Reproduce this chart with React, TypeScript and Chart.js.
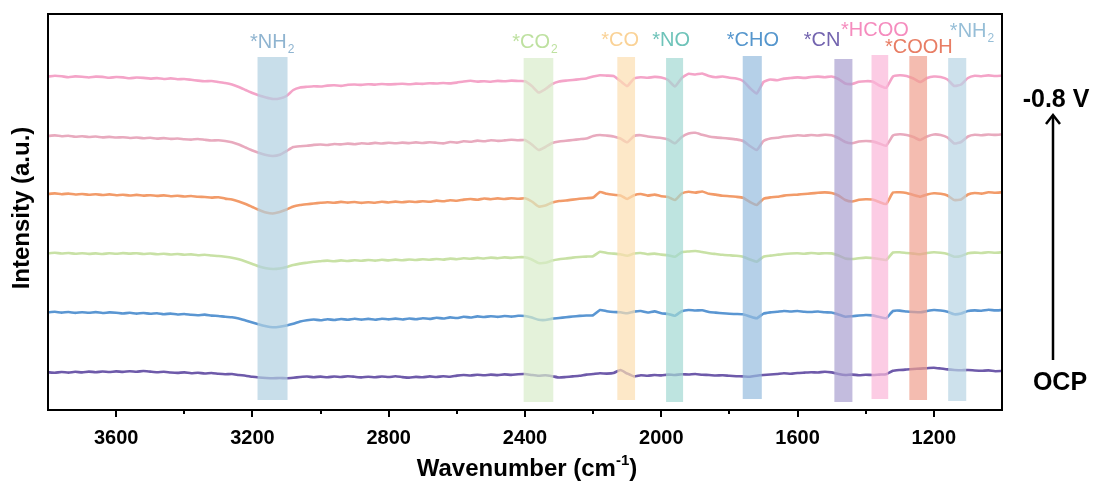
import React, { useEffect, useRef } from "react";
import { Chart, registerables } from "chart.js";

Chart.register(...registerables);

// ---------- DATA ----------
const wavenumbers: number[] = [
  3800, 3780, 3760, 3740, 3720, 3700, 3680, 3660, 3640, 3620, 3600,
  3580, 3560, 3540, 3520, 3500, 3480, 3460, 3440, 3420, 3400,
  3380, 3360, 3340, 3320, 3300, 3280, 3260, 3240, 3220, 3200,
  3180, 3160, 3140, 3120, 3100, 3080, 3060, 3040, 3020, 3000,
  2980, 2960, 2940, 2920, 2900, 2880, 2860, 2840, 2820, 2800,
  2780, 2760, 2740, 2720, 2700, 2680, 2660, 2640, 2620, 2600,
  2580, 2560, 2540, 2520, 2500, 2480, 2460, 2440, 2420, 2400,
  2380, 2360, 2340, 2320, 2300, 2280, 2260, 2240, 2220, 2200,
  2180, 2160, 2140, 2120, 2100, 2080, 2060, 2040, 2020, 2000,
  1980, 1960, 1940, 1920, 1900, 1880, 1860, 1840, 1820, 1800,
  1780, 1760, 1740, 1720, 1700, 1680, 1660, 1640, 1620, 1600,
  1580, 1560, 1540, 1520, 1500, 1480, 1460, 1440, 1420, 1400,
  1380, 1360, 1340, 1320, 1300, 1280, 1260, 1240, 1220, 1200,
  1180, 1160, 1140, 1120, 1100, 1080, 1060, 1040, 1020, 1000,
];

// spectrum at -0.8 V (top, pink)
const spec6: number[] = [
  333.5, 334.2, 333.7, 332.8, 333.6, 333.2, 332.5, 333.4, 333.1, 332.2, 333.0,
  332.6, 331.7, 332.5, 332.1, 331.4, 331.9, 331.0, 331.6, 330.8, 331.0,
  330.2, 329.4, 328.8, 329.0, 328.0, 327.0, 325.5, 323.0, 320.0, 317.0,
  314.5, 312.5, 311.0, 311.5, 314.0, 320.0, 322.5, 323.2, 323.8, 323.5,
  324.4, 324.8, 324.1, 325.2, 325.5, 325.1, 325.8, 325.4, 326.0, 325.6,
  325.9, 326.3, 325.7, 326.4, 326.1, 326.8, 326.5, 327.0, 326.6, 327.4,
  328.5, 329.2, 328.4, 328.8, 328.2, 329.1, 328.7, 329.4, 329.0, 328.8,
  324.0, 317.5, 321.0, 326.0, 328.5, 329.4, 330.0, 330.8, 331.5, 333.5,
  334.8, 334.4, 334.0, 329.0, 324.0, 331.5, 332.8, 332.2, 333.1, 332.5,
  330.0, 323.5, 332.0, 336.2, 335.5, 336.5, 334.0, 332.8, 333.5, 332.2,
  331.4, 329.0, 322.0, 316.5, 328.0, 330.5, 329.8, 331.4, 332.0, 332.6,
  332.1, 333.0, 333.4, 332.8, 333.5, 331.0, 326.5, 326.0, 328.2, 328.8,
  328.5, 324.5, 322.2, 333.5, 334.8, 334.0, 331.5, 328.0, 332.0, 333.5,
  333.0, 330.5, 324.0, 325.5, 332.0, 334.2, 333.8, 334.6, 334.0, 334.3,
];

// second spectrum (dusty pink)
const spec5: number[] = [
  274.0, 274.6, 273.8, 274.2, 273.2, 273.7, 273.0, 273.5, 272.6, 273.1, 272.5,
  272.8, 272.0, 272.5, 271.8, 272.2, 271.4, 271.9, 271.1, 271.5, 270.8,
  270.4, 271.0, 270.2, 269.5, 269.8, 269.0, 267.8, 265.5, 262.5, 259.5,
  257.0, 255.0, 254.0, 255.2, 259.0, 263.0, 263.8, 264.2, 265.1, 265.5,
  265.0, 266.0, 265.6, 266.4, 265.8, 266.8, 266.2, 267.1, 266.5, 267.2,
  266.7, 267.4, 266.9, 267.6, 267.0, 267.8, 267.2, 266.6, 268.0, 267.4,
  268.8, 268.2, 269.4, 268.7, 269.8, 269.1, 269.6, 270.2, 269.7, 270.0,
  265.5, 260.0, 263.0, 267.0, 268.5, 269.2, 270.0, 270.8, 271.5, 274.0,
  275.0, 274.4, 273.6, 271.5, 267.7, 274.0, 274.8, 273.5, 272.7, 272.0,
  270.5, 266.7, 273.0, 276.5, 277.2, 275.2, 273.5, 272.6, 272.0, 271.4,
  270.6, 269.0, 264.0, 260.0, 269.0, 271.5, 272.2, 273.5, 274.0, 274.8,
  274.2, 275.0, 274.5, 275.2, 274.7, 272.0, 268.0, 266.7, 268.5, 269.0,
  268.6, 266.5, 264.3, 274.5, 275.7, 275.0, 273.0, 270.0, 273.5, 275.5,
  275.0, 272.5, 266.5, 268.0, 273.5, 275.2, 274.8, 275.5, 275.1, 275.7,
];

// third spectrum (orange)
const spec4: number[] = [
  216.0, 216.6, 215.8, 216.4, 215.5, 216.0, 215.2, 215.8, 215.0, 215.6, 214.8,
  215.3, 214.5, 215.1, 214.4, 214.8, 214.1, 214.6, 213.8, 214.2, 213.5,
  214.0, 213.2, 213.0, 212.4, 212.8, 211.4, 210.5, 208.5, 206.0, 203.0,
  200.0, 197.5, 196.5, 198.0, 200.5, 203.5, 205.0, 205.8, 206.5, 207.2,
  207.8, 207.2, 208.1, 207.4, 208.0, 207.1, 207.8, 207.3, 208.2, 207.5,
  208.4, 207.7, 208.5, 208.0, 208.8, 208.2, 209.4, 208.7, 209.8, 209.2,
  210.4, 211.0, 210.2, 211.5, 210.8, 211.6, 211.0, 211.8, 211.2, 211.7,
  208.5, 203.5, 204.5, 207.5, 209.0, 209.5, 210.4, 211.2, 211.8, 212.5,
  218.0, 216.2, 215.2, 214.5, 211.0, 214.8, 216.0, 214.4, 215.4, 213.8,
  213.0, 210.0, 216.5, 218.2, 217.4, 218.5, 216.2, 215.4, 214.2, 213.8,
  213.2, 212.2, 208.0, 205.0, 211.2, 212.6, 213.2, 214.4, 215.0, 215.4,
  216.0, 216.6, 217.2, 217.6, 217.0, 214.5, 210.0, 208.5, 210.2, 210.8,
  210.4, 208.0, 206.0, 217.4, 217.7, 217.0, 215.0, 213.3, 215.5, 216.7,
  216.2, 214.5, 210.0, 210.5, 215.5, 217.0, 216.4, 217.8, 217.2, 217.7,
];

// fourth spectrum (light green)
const spec3: number[] = [
  156.7, 157.2, 156.5, 157.0, 156.2, 156.8, 156.1, 156.6, 156.0, 156.7, 156.2,
  156.9, 156.4, 156.8, 156.0, 156.5, 155.8, 156.2, 155.5, 156.0, 155.3,
  155.6, 154.8, 155.2, 154.5, 154.0, 153.2, 152.2, 150.7, 148.5, 146.0,
  143.5, 141.8, 141.0, 141.5, 143.0, 145.0, 146.4, 147.3, 148.2, 148.8,
  149.4, 148.7, 149.6, 149.0, 149.8, 149.2, 150.0, 149.4, 150.2, 149.6,
  150.4, 149.7, 150.5, 150.0, 150.8, 150.2, 151.0, 150.4, 151.4, 150.8,
  151.7, 151.2, 152.1, 151.5, 152.4, 151.8, 152.6, 152.1, 152.8, 152.7,
  150.5, 147.0, 147.2, 149.5, 150.8, 151.5, 152.4, 153.0, 153.4, 153.8,
  158.3, 157.0, 156.4, 155.7, 154.3, 156.5, 157.0, 155.8, 156.4, 155.4,
  154.8, 153.3, 157.8, 158.5, 159.0, 158.0, 156.8, 156.0, 155.2, 154.7,
  154.2, 153.3, 150.5, 148.3, 153.3, 154.4, 155.2, 156.0, 156.5, 156.7,
  156.2, 157.0, 156.4, 156.8, 156.6, 154.5, 151.5, 151.0, 151.8, 152.4,
  152.0, 151.0, 150.0, 157.5, 157.7, 157.0, 156.4, 155.7, 157.0, 157.7,
  157.2, 156.0, 153.3, 154.0, 156.7, 157.4, 157.0, 157.8, 157.2, 157.7,
];

// fifth spectrum (blue)
const spec2: number[] = [
  97.7, 98.2, 97.4, 98.0, 97.1, 97.8, 97.2, 97.9, 97.0, 97.6, 97.3,
  96.5, 97.2, 96.4, 97.0, 96.2, 96.8, 95.8, 96.4, 95.5, 96.0,
  95.2, 94.8, 95.4, 94.4, 94.0, 93.2, 92.8, 91.5, 89.5, 87.5,
  85.5, 83.7, 82.7, 83.2, 84.5, 86.2, 88.5, 89.8, 90.5, 89.7,
  90.8, 90.0, 91.0, 90.2, 91.2, 90.4, 91.1, 90.3, 91.3, 90.6,
  91.4, 90.5, 91.5, 90.8, 91.8, 91.1, 92.2, 91.5, 92.6, 92.0,
  93.2, 92.5, 93.6, 93.0, 93.8, 93.1, 94.0, 93.4, 94.2, 94.0,
  92.4, 90.2, 90.0, 91.4, 92.0, 92.8, 93.5, 94.1, 94.5, 94.8,
  100.0, 98.8, 98.0, 97.7, 96.7, 98.4, 99.0, 97.5, 98.6, 96.8,
  96.0, 94.3, 98.8, 100.0, 99.5, 99.8, 98.0, 97.4, 96.7, 96.2,
  96.0, 95.7, 93.5, 91.7, 96.4, 97.6, 98.2, 99.0, 98.5, 99.0,
  98.2, 98.0, 98.5, 97.7, 97.5, 95.5, 93.3, 93.8, 94.5, 95.0,
  94.6, 93.0, 91.7, 99.0, 99.4, 98.5, 98.0, 97.7, 99.0, 100.0,
  99.5, 98.2, 95.7, 96.5, 99.0, 99.6, 99.2, 100.2, 99.6, 100.0,
];

// OCP spectrum (bottom, purple)
const spec1: number[] = [
  37.7, 37.2, 38.0, 37.4, 38.2, 37.6, 38.4, 37.8, 38.5, 38.0, 38.6,
  38.1, 38.8, 38.3, 39.0, 38.4, 37.8, 38.2, 37.5, 37.1, 37.6,
  36.8, 37.2, 36.5, 37.0, 36.2, 35.7, 36.0, 35.0, 34.3, 33.2,
  32.5, 32.0, 31.7, 32.0, 31.8, 32.3, 33.0, 33.5, 32.8, 33.4,
  32.7, 33.5, 33.0, 33.8, 33.2, 32.6, 33.3, 32.8, 33.5, 33.0,
  33.7, 32.9, 32.4, 33.1, 32.7, 33.6, 33.0, 33.7, 33.2, 34.4,
  35.0, 34.5, 35.2, 34.7, 35.4, 34.9, 35.6, 35.1, 35.8, 36.0,
  35.0, 34.2, 34.8, 33.8, 32.5, 33.0, 33.6, 34.2, 35.4, 36.0,
  36.7, 36.4, 37.0, 40.0, 36.5, 33.6, 34.8, 34.2, 35.0, 34.6,
  35.4, 35.0, 35.8, 35.5, 36.0, 35.2, 35.0, 34.5, 34.8, 34.2,
  33.8, 33.6, 33.3, 34.3, 35.0, 35.5, 36.0, 36.7, 36.2, 37.0,
  37.4, 37.8, 37.5, 38.3, 37.6, 36.0, 35.0, 35.4, 34.8, 35.2,
  35.0, 35.4, 35.7, 39.2, 40.0, 40.5, 41.0, 41.4, 41.8, 42.3,
  41.5, 40.6, 40.0, 39.7, 40.0, 39.5, 39.2, 39.6, 38.8, 39.0,
];

const seriesNames: string[] = ["OCP", "E2", "E3", "E4", "E5", "-0.8 V"];
const seriesColors: string[] = ["#6E5AAA", "#5A96D2", "#C8E1A5", "#F29B69", "#E8AABE", "#F4A4C8"];

// x-axis ticks
const majorTicks: number[] = [3600, 3200, 2800, 2400, 2000, 1600, 1200];
const minorTicks: number[] = [3400, 3000, 2600, 2200, 1800, 1400];

// highlighted adsorbate bands (cm-1 ranges and a.u. extents)
const bandLabels: string[] = ["*NH", "*CO", "*CO", "*NO", "*CHO", "*CN", "*HCOO", "*COOH", "*NH"];
const bandSubs: string[] = ["2", "2", "", "", "", "", "", "", "2"];
const bandFrom: number[] = [3185, 2404, 2129, 1986, 1761, 1492, 1383, 1272, 1158];
const bandTo: number[] = [3097, 2317, 2077, 1936, 1705, 1439, 1334, 1220, 1105];
const bandTop: number[] = [353, 352, 353, 352, 354, 351, 355, 354, 352];
const bandBottom: number[] = [10, 8, 10, 8, 11, 8, 11, 10, 9];
const bandFills: string[] = [
  "rgba(176,208,225,0.7)",
  "rgba(216,236,202,0.7)",
  "rgba(252,222,176,0.7)",
  "rgba(162,216,211,0.7)",
  "rgba(149,188,222,0.7)",
  "rgba(169,159,208,0.7)",
  "rgba(251,182,216,0.7)",
  "rgba(239,159,142,0.7)",
  "rgba(184,212,228,0.7)",
];
const labelColors: string[] = [
  "#8FB4D0", "#BEE1A0", "#FAD296", "#6EC3B9", "#5596CD", "#7364AF", "#F58CBE", "#E87D64", "#96BED7",
];
// label anchor: wavenumber of label centre, a.u. level of label middle
const labelAt: number[] = [3142, 2371, 2121, 1971, 1731, 1528, 1373, 1244, 1088];
const labelLevel: number[] = [368, 368, 370, 370, 370, 370, 379.5, 363, 378.5];

const FONT = "'Liberation Sans', Arial, sans-serif";

function drawSubText(ctx: CanvasRenderingContext2D, main: string, sub: string, cx: number, cy: number, size: number, color: string, weight: string) {
  ctx.font = `${weight} ${size}px ${FONT}`;
  const w1 = ctx.measureText(main).width;
  const subSize = Math.round(size * 0.62);
  ctx.font = `${weight} ${subSize}px ${FONT}`;
  const w2 = sub ? ctx.measureText(sub).width + 1 : 0;
  const x0 = cx - (w1 + w2) / 2;
  ctx.fillStyle = color;
  ctx.textAlign = "left";
  ctx.textBaseline = "middle";
  ctx.font = `${weight} ${size}px ${FONT}`;
  ctx.fillText(main, x0, cy);
  if (sub) {
    ctx.font = `${weight} ${subSize}px ${FONT}`;
    ctx.fillText(sub, x0 + w1 + 1, cy + size * 0.38);
  }
}

const overlayPlugin = {
  id: "overlayPlugin",
  afterDatasetsDraw(chart: any) {
    const { ctx, chartArea, scales } = chart;
    const { left, right, top, bottom } = chartArea;
    const xs = scales.x;
    const ys = scales.y;
    ctx.save();

    // bands (translucent, over the spectra)
    for (let i = 0; i < bandFrom.length; i++) {
      const x1 = xs.getPixelForValue(bandFrom[i]);
      const x2 = xs.getPixelForValue(bandTo[i]);
      const y1 = ys.getPixelForValue(bandTop[i]);
      const y2 = ys.getPixelForValue(bandBottom[i]);
      ctx.fillStyle = bandFills[i];
      ctx.fillRect(Math.min(x1, x2), Math.min(y1, y2), Math.abs(x2 - x1), Math.abs(y2 - y1));
    }

    // band labels
    for (let i = 0; i < bandLabels.length; i++) {
      const cx = xs.getPixelForValue(labelAt[i]);
      const cy = ys.getPixelForValue(labelLevel[i]);
      drawSubText(ctx, bandLabels[i], bandSubs[i], cx, cy, 20, labelColors[i], "normal");
    }

    // frame
    ctx.strokeStyle = "#000";
    ctx.lineWidth = 2;
    ctx.strokeRect(left, top, right - left, bottom - top);

    // ticks
    ctx.lineWidth = 2;
    ctx.beginPath();
    for (const t of majorTicks) {
      const px = Math.round(xs.getPixelForValue(t));
      ctx.moveTo(px, bottom);
      ctx.lineTo(px, bottom + 7);
    }
    for (const t of minorTicks) {
      const px = Math.round(xs.getPixelForValue(t));
      ctx.moveTo(px, bottom);
      ctx.lineTo(px, bottom + 4);
    }
    ctx.stroke();

    // tick labels
    ctx.fillStyle = "#000";
    ctx.font = `bold 20px ${FONT}`;
    ctx.textAlign = "center";
    ctx.textBaseline = "middle";
    for (const t of majorTicks) {
      ctx.fillText(String(t), xs.getPixelForValue(t), 438);
    }

    // x title with superscript
    {
      const size = 24;
      ctx.font = `bold ${size}px ${FONT}`;
      const a = "Wavenumber (cm";
      const c = ")";
      const wa = ctx.measureText(a).width;
      const wc = ctx.measureText(c).width;
      ctx.font = `bold 15px ${FONT}`;
      const sup = "-1";
      const wb = ctx.measureText(sup).width;
      const cx = 527;
      const x0 = cx - (wa + wb + wc) / 2;
      const cy = 469;
      ctx.textAlign = "left";
      ctx.textBaseline = "middle";
      ctx.font = `bold ${size}px ${FONT}`;
      ctx.fillText(a, x0, cy);
      ctx.font = `bold 15px ${FONT}`;
      ctx.fillText(sup, x0 + wa, cy - 8);
      ctx.font = `bold ${size}px ${FONT}`;
      ctx.fillText(c, x0 + wa + wb, cy);
    }

    // y title
    ctx.save();
    ctx.translate(22, 208);
    ctx.rotate(-Math.PI / 2);
    ctx.font = `bold 24px ${FONT}`;
    ctx.textAlign = "center";
    ctx.textBaseline = "middle";
    ctx.fillText("Intensity (a.u.)", 0, 0);
    ctx.restore();

    // potential arrow
    ctx.font = `bold 25px ${FONT}`;
    ctx.textAlign = "center";
    ctx.textBaseline = "middle";
    ctx.fillText("-0.8 V", 1056, 100);
    ctx.fillText("OCP", 1060, 383);
    ctx.lineWidth = 2.5;
    ctx.beginPath();
    ctx.moveTo(1053, 360);
    ctx.lineTo(1053, 116);
    ctx.stroke();
    ctx.beginPath();
    ctx.moveTo(1046, 124);
    ctx.lineTo(1053, 115);
    ctx.lineTo(1060, 124);
    ctx.stroke();

    ctx.restore();
  },
};

export default function App() {
  const canvasRef = useRef<HTMLCanvasElement | null>(null);

  useEffect(() => {
    const canvas = canvasRef.current;
    if (!canvas) return;
    const spectra = [spec1, spec2, spec3, spec4, spec5, spec6];
    const chart = new Chart(canvas, {
      type: "line",
      data: {
        datasets: spectra.map((s, k) => ({
          label: seriesNames[k],
          data: wavenumbers.map((w, i) => ({ x: w, y: s[i] })),
          borderColor: seriesColors[k],
          borderWidth: 2.6,
          pointRadius: 0,
          tension: 0.15,
          fill: false,
        })),
      },
      options: {
        animation: false,
        responsive: false,
        maintainAspectRatio: false,
        devicePixelRatio: 1,
        layout: { padding: { left: 48, right: 94, top: 14, bottom: 80 } },
        plugins: { legend: { display: false }, tooltip: { enabled: false } },
        scales: {
          x: { type: "linear", reverse: true, min: 1000, max: 3800, display: false },
          y: { type: "linear", min: 0, max: 396, display: false },
        },
      },
      plugins: [overlayPlugin],
    });
    return () => chart.destroy();
  }, []);

  return (
    <div style={{ position: "absolute", left: 0, top: 0, width: 1096, height: 490, background: "#fff" }}>
      <canvas ref={canvasRef} width={1096} height={490} />
    </div>
  );
}
